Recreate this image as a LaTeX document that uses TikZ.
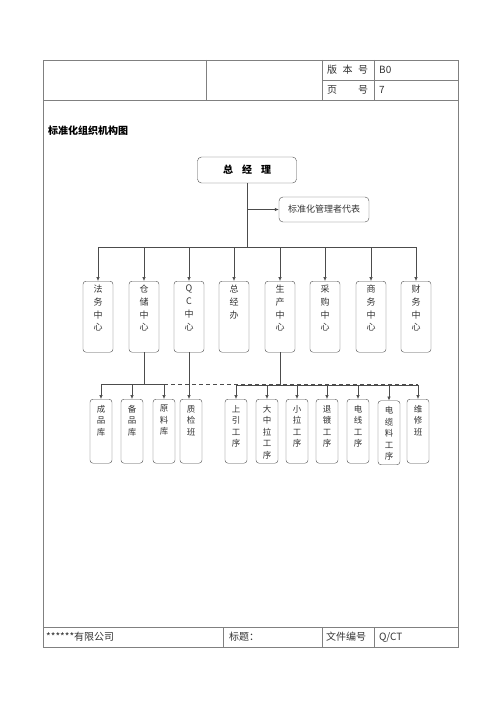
\documentclass[tikz,border=0pt]{standalone}
\usepackage{fontspec}
\setmainfont{Noto Sans CJK SC}
\usetikzlibrary{arrows.meta,positioning}

\tikzset{
  frame/.style={draw=black!50, line width=0.7pt},
  boss/.style={rectangle, rounded corners=4pt, draw=black!70, minimum width=99pt, minimum height=26pt, font=\bfseries\fontsize{10}{12}\selectfont},
  rep/.style={rectangle, rounded corners=4pt, draw=black!70, minimum width=90pt, minimum height=25pt, font=\fontsize{9}{11}\selectfont, text=black!80},
  dept/.style={rectangle, rounded corners=3pt, draw=black!70, minimum width=30pt, minimum height=71pt, anchor=north, inner sep=0pt},
  unit/.style={rectangle, rounded corners=3pt, draw=black!70, minimum width=22pt, minimum height=64pt, anchor=north, inner sep=0pt},
  depttext/.style={align=center, inner sep=0pt, font=\fontsize{9}{12.7}\selectfont, text=black!80},
  unittext/.style={align=center, inner sep=0pt, font=\fontsize{8.5}{11.5}\selectfont, text=black!80},
  cell/.style={anchor=west, inner sep=0pt, font=\fontsize{10}{12}\selectfont, text=black!80},
  link/.style={draw=black!70, line width=0.6pt},
  arr/.style={link, -{Latex[length=4pt,width=3.5pt]}}
}

\begin{document}
\begin{tikzpicture}[x=1pt, y=-1pt]

        \useasboundingbox (0,0) rectangle (500,708);

        % page frame
        \draw[frame] (43,60) rectangle (458,647);
        \draw[frame] (43,100) -- (458,100);
        \draw[frame] (322,80) -- (458,80);
        \draw[frame] (206,60) -- (206,100);
        \draw[frame] (322,60) -- (322,100);
        \draw[frame] (374,60) -- (374,100);
        \draw[frame] (43,627) -- (458,627);
        \draw[frame] (223,627) -- (223,647);
        \draw[frame] (322,627) -- (322,647);
        \draw[frame] (374,627) -- (374,647);

        \node (banben) [cell] at (327,70) {\makebox[41pt]{版\hfill 本\hfill 号}};
        \node (bbval) [cell] at (379,70) {B0};
        \node (yehao) [cell] at (327,90) {\makebox[41pt]{页\hfill 号}};
        \node (yhval) [cell] at (379,90) {7};
        \node (company) [cell] at (46,637) {******有限公司};
        \node (biaoti) [cell] at (229,637) {标题：};
        \node (wenjian) [cell] at (326,637) {文件编号};
        \node (wjval) [cell] at (379,637) {Q/CT};

        \node (title) [cell, font=\bfseries\fontsize{10}{12}\selectfont, text=black] at (48,131) {标准化组织机构图};

        % top
        \node (boss) [boss] at (247,170) {总\hspace{9pt}经\hspace{9pt}理};
        \node (rep) [rep] at (324,209.5) {标准化管理者代表};
        \coordinate (topbus) at (247,247);

        \draw[link] (boss.south) -- (topbus);
        \draw[arr] (boss.south |- rep.west) -- (rep.west);

        % centers
        \node (fawu) [dept] at (98,281) {};
        \node (cangchu) [dept] at (144,281) {};
        \node (qc) [dept] at (189,281) {};
        \node (zongjingban) [dept] at (234,281) {};
        \node (shengchan) [dept] at (280,281) {};
        \node (caigou) [dept] at (325,281) {};
        \node (shangwu) [dept] at (371,281) {};
        \node (caiwu) [dept] at (416,281) {};

        \node [depttext, below=4pt of fawu.north] {法\\务\\中\\心};
        \node [depttext, below=4pt of cangchu.north] {仓\\储\\中\\心};
        \node [depttext, below=4pt of qc.north] {Q\\C\\中\\心};
        \node [depttext, below=4pt of zongjingban.north] {总\\经\\办};
        \node [depttext, below=4pt of shengchan.north] {生\\产\\中\\心};
        \node [depttext, below=4pt of caigou.north] {采\\购\\中\\心};
        \node [depttext, below=4pt of shangwu.north] {商\\务\\中\\心};
        \node [depttext, below=4pt of caiwu.north] {财\\务\\中\\心};

        \draw[arr] (topbus) -| (fawu.north);
        \draw[arr] (topbus) -| (cangchu.north);
        \draw[arr] (topbus) -| (qc.north);
        \draw[arr] (topbus) -| (zongjingban.north);
        \draw[arr] (topbus) -| (shengchan.north);
        \draw[arr] (topbus) -| (caigou.north);
        \draw[arr] (topbus) -| (shangwu.north);
        \draw[arr] (topbus) -| (caiwu.north);

        % units
        \node (chengpin) [unit] at (101,399) {};
        \node (beipin) [unit] at (132,399) {};
        \node (yuanliao) [unit] at (164,399) {};
        \node (zhijian) [unit] at (191,399) {};
        \node (shangyin) [unit] at (236,399) {};
        \node (dazhongla) [unit] at (267,399) {};
        \node (xiaola) [unit] at (297,399) {};
        \node (tuidu) [unit] at (327,399) {};
        \node (dianxian) [unit] at (358,399) {};
        \node (dianlan) [unit] at (389,400.5) {};
        \node (weixiu) [unit] at (418,399) {};

        \node [unittext, below=6pt of chengpin.north] {成\\品\\库};
        \node [unittext, below=6pt of beipin.north] {备\\品\\库};
        \node [unittext, below=6pt of yuanliao.north] {原\\料\\库};
        \node [unittext, below=6pt of zhijian.north] {质\\检\\班};
        \node [unittext, below=6pt of shangyin.north] {上\\引\\工\\序};
        \node [unittext, below=6pt of dazhongla.north] {大\\中\\拉\\工\\序};
        \node [unittext, below=6pt of xiaola.north] {小\\拉\\工\\序};
        \node [unittext, below=6pt of tuidu.north] {退\\镀\\工\\序};
        \node [unittext, below=6pt of dianxian.north] {电\\线\\工\\序};
        \node [unittext, below=6pt of dianlan.north] {电\\缆\\料\\工\\序};
        \node [unittext, below=6pt of weixiu.north] {维\\修\\班};

        \coordinate (storebus) at (144,384.5);
        \coordinate (prodbus) at (280,385);

        \draw[link, dash pattern=on 4pt off 3pt] (yuanliao.north |- storebus) -- (weixiu.north |- storebus);

        \draw[link] (cangchu.south) -- (storebus);
        \draw[arr] (storebus) -| (chengpin.north);
        \draw[arr] (storebus) -| (beipin.north);
        \draw[arr] (storebus) -| (yuanliao.north);

        \draw[arr] (qc.south) -- (qc.south |- zhijian.north);

        \draw[link] (shengchan.south) -- (prodbus);
        \draw[arr] (prodbus) -| (shangyin.north);
        \draw[arr] (prodbus) -| (dazhongla.north);
        \draw[arr] (prodbus) -| (xiaola.north);
        \draw[arr] (prodbus) -| (tuidu.north);
        \draw[arr] (prodbus) -| (dianxian.north);
        \draw[arr] (prodbus) -| (dianlan.north);
        \draw[arr] (prodbus) -| (weixiu.north);

    \end{tikzpicture}
\end{document}
